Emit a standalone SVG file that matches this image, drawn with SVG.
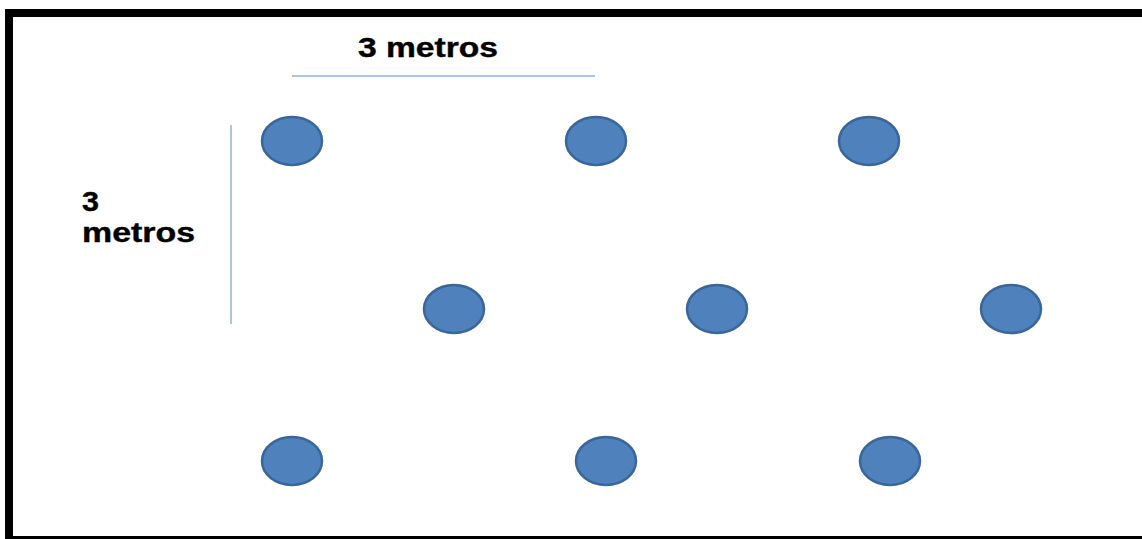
<svg xmlns="http://www.w3.org/2000/svg" width="1142" height="539" viewBox="0 0 1142 539">
<style>
.c{fill:#4f81bd;stroke:#3a6699;stroke-width:2.5}
.l{stroke:#8cb2e0;stroke-width:1.5;fill:none}
.t{font-family:"Liberation Sans",Arial,sans-serif;font-weight:bold;font-size:27px;fill:#000;stroke:#000;stroke-width:0.4}
</style>
<rect width="1142" height="539" fill="#fff"/>
<g id="border" fill="#000">
<rect x="5" y="9" width="1137" height="8"/>
<rect x="5" y="9" width="8" height="530"/>
<rect x="5" y="536" width="1137" height="3"/>
</g>
<g id="connectors">
<line class="l" x1="292" y1="76" x2="595" y2="76"/>
<line class="l" x1="231" y1="125" x2="231" y2="324"/>
</g>
<g id="label-top"><text class="t" x="358" y="57" textLength="140" lengthAdjust="spacingAndGlyphs">3 metros</text></g>
<g id="label-left"><text class="t" x="82" y="211" textLength="17" lengthAdjust="spacingAndGlyphs">3</text><text class="t" x="82" y="242" textLength="113" lengthAdjust="spacingAndGlyphs">metros</text></g>
<g id="n1"><ellipse class="c" cx="292" cy="141" rx="30" ry="24"/></g>
<g id="n2"><ellipse class="c" cx="596" cy="141" rx="30" ry="24"/></g>
<g id="n3"><ellipse class="c" cx="869" cy="141" rx="30" ry="24"/></g>
<g id="n4"><ellipse class="c" cx="454" cy="309" rx="30" ry="24"/></g>
<g id="n5"><ellipse class="c" cx="717" cy="309" rx="30" ry="24"/></g>
<g id="n6"><ellipse class="c" cx="1011" cy="309" rx="30" ry="24"/></g>
<g id="n7"><ellipse class="c" cx="292" cy="461" rx="30" ry="24"/></g>
<g id="n8"><ellipse class="c" cx="606" cy="461" rx="30" ry="24"/></g>
<g id="n9"><ellipse class="c" cx="890" cy="461" rx="30" ry="24"/></g>
</svg>
